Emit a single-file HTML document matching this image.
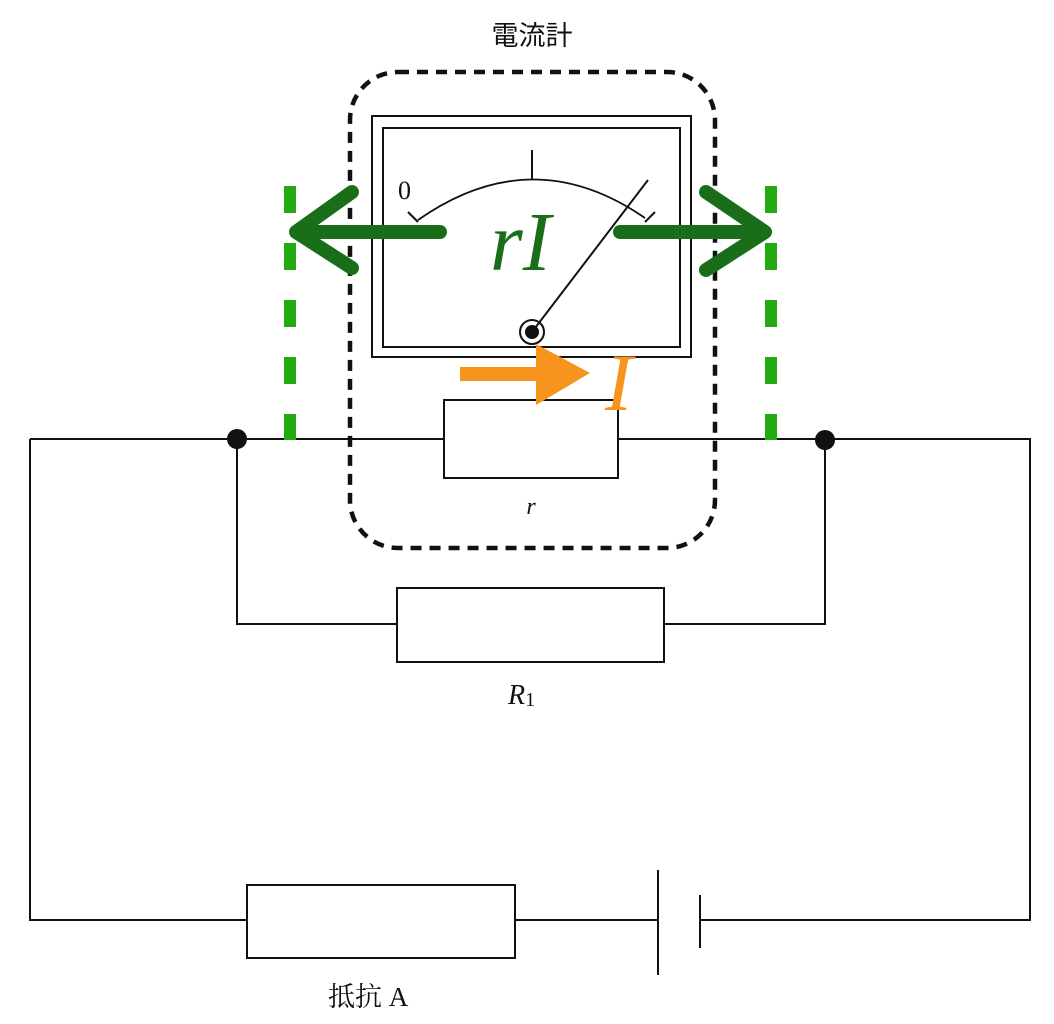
<!DOCTYPE html>
<html><head><meta charset="utf-8"><style>
html,body{margin:0;padding:0;background:#fff;}
svg{display:block;}
</style></head><body>
<svg width="1054" height="1024" viewBox="0 0 1054 1024" xmlns="http://www.w3.org/2000/svg">
<g fill="none" stroke="#111" stroke-width="2">
<!-- circuit -->
<polyline points="30,439 30,920 247,920"/>
<rect x="247" y="885" width="268" height="73" fill="#fff"/>
<line x1="515" y1="920" x2="658" y2="920"/>
<line x1="658" y1="870" x2="658" y2="975"/>
<line x1="700" y1="895" x2="700" y2="948"/>
<polyline points="700,920 1030,920 1030,439 30,439"/>
<rect x="444" y="400" width="174" height="78" fill="#fff"/>
<polyline points="237,439 237,624 397,624"/>
<rect x="397" y="588" width="267" height="74" fill="#fff"/>
<polyline points="664,624 825,624 825,439"/>
<!-- meter -->
<rect x="372" y="116" width="319" height="241"/>
<rect x="383" y="128" width="297" height="219"/>
<path d="M418,220 Q532,140 645,218" stroke-width="1.8"/>
<line x1="532" y1="150" x2="532" y2="180"/>
<line x1="408" y1="212" x2="418" y2="222"/>
<line x1="655" y1="212" x2="645" y2="222"/>
<line x1="532" y1="332" x2="648" y2="180"/>
<circle cx="532" cy="332" r="12"/>
</g>
<circle cx="532" cy="332" r="7" fill="#111"/>
<circle cx="237" cy="439" r="10" fill="#111"/>
<circle cx="825" cy="440" r="10" fill="#111"/>
<!-- dashed box -->
<rect x="350" y="72" width="365" height="476" rx="48" fill="none" stroke="#111" stroke-width="4.5" stroke-dasharray="11,8"/>
<!-- green dashed -->
<line x1="290" y1="186" x2="290" y2="440" stroke="#22aa10" stroke-width="12" stroke-dasharray="27,30"/>
<line x1="771" y1="186" x2="771" y2="440" stroke="#22aa10" stroke-width="12" stroke-dasharray="27,30"/>
<!-- green arrows -->
<g stroke="#1a6e1a" stroke-width="14" fill="none" stroke-linecap="round" stroke-linejoin="round">
<line x1="298" y1="232" x2="440" y2="232"/>
<polyline points="352,192 296,232 352,268"/>
<line x1="620" y1="232" x2="762" y2="232"/>
<polyline points="706,192 765,232 706,270"/>
</g>
<text x="490" y="270" font-family="Liberation Serif, serif" font-style="italic" font-size="84" fill="#1a6e1a">rI</text>
<!-- orange arrow -->
<line x1="460" y1="374" x2="545" y2="374" stroke="#f7941d" stroke-width="14"/>
<polygon points="536,344 590,373 536,405" fill="#f7941d"/>
<text x="605" y="410" font-family="Liberation Serif, serif" font-style="italic" font-size="82" fill="#f7941d">I</text>
<!-- labels -->
<text x="398" y="199" font-family="Liberation Serif, serif" font-size="26" fill="#111">0</text>
<text x="532" y="45" text-anchor="middle" font-family="Liberation Sans, Noto Sans CJK JP, sans-serif" font-size="27" fill="#111">電流計</text>
<text x="531" y="514" text-anchor="middle" font-family="Liberation Serif, serif" font-style="italic" font-size="24" fill="#111">r</text>
<text x="508" y="704" font-family="Liberation Serif, serif" font-style="italic" font-size="28" fill="#111">R<tspan font-style="normal" font-size="20" dy="2">1</tspan></text>
<text x="328" y="1006" font-family="Liberation Serif, Noto Serif CJK SC, serif" font-size="27" fill="#111">抵抗 A</text>
</svg>
</body></html>
